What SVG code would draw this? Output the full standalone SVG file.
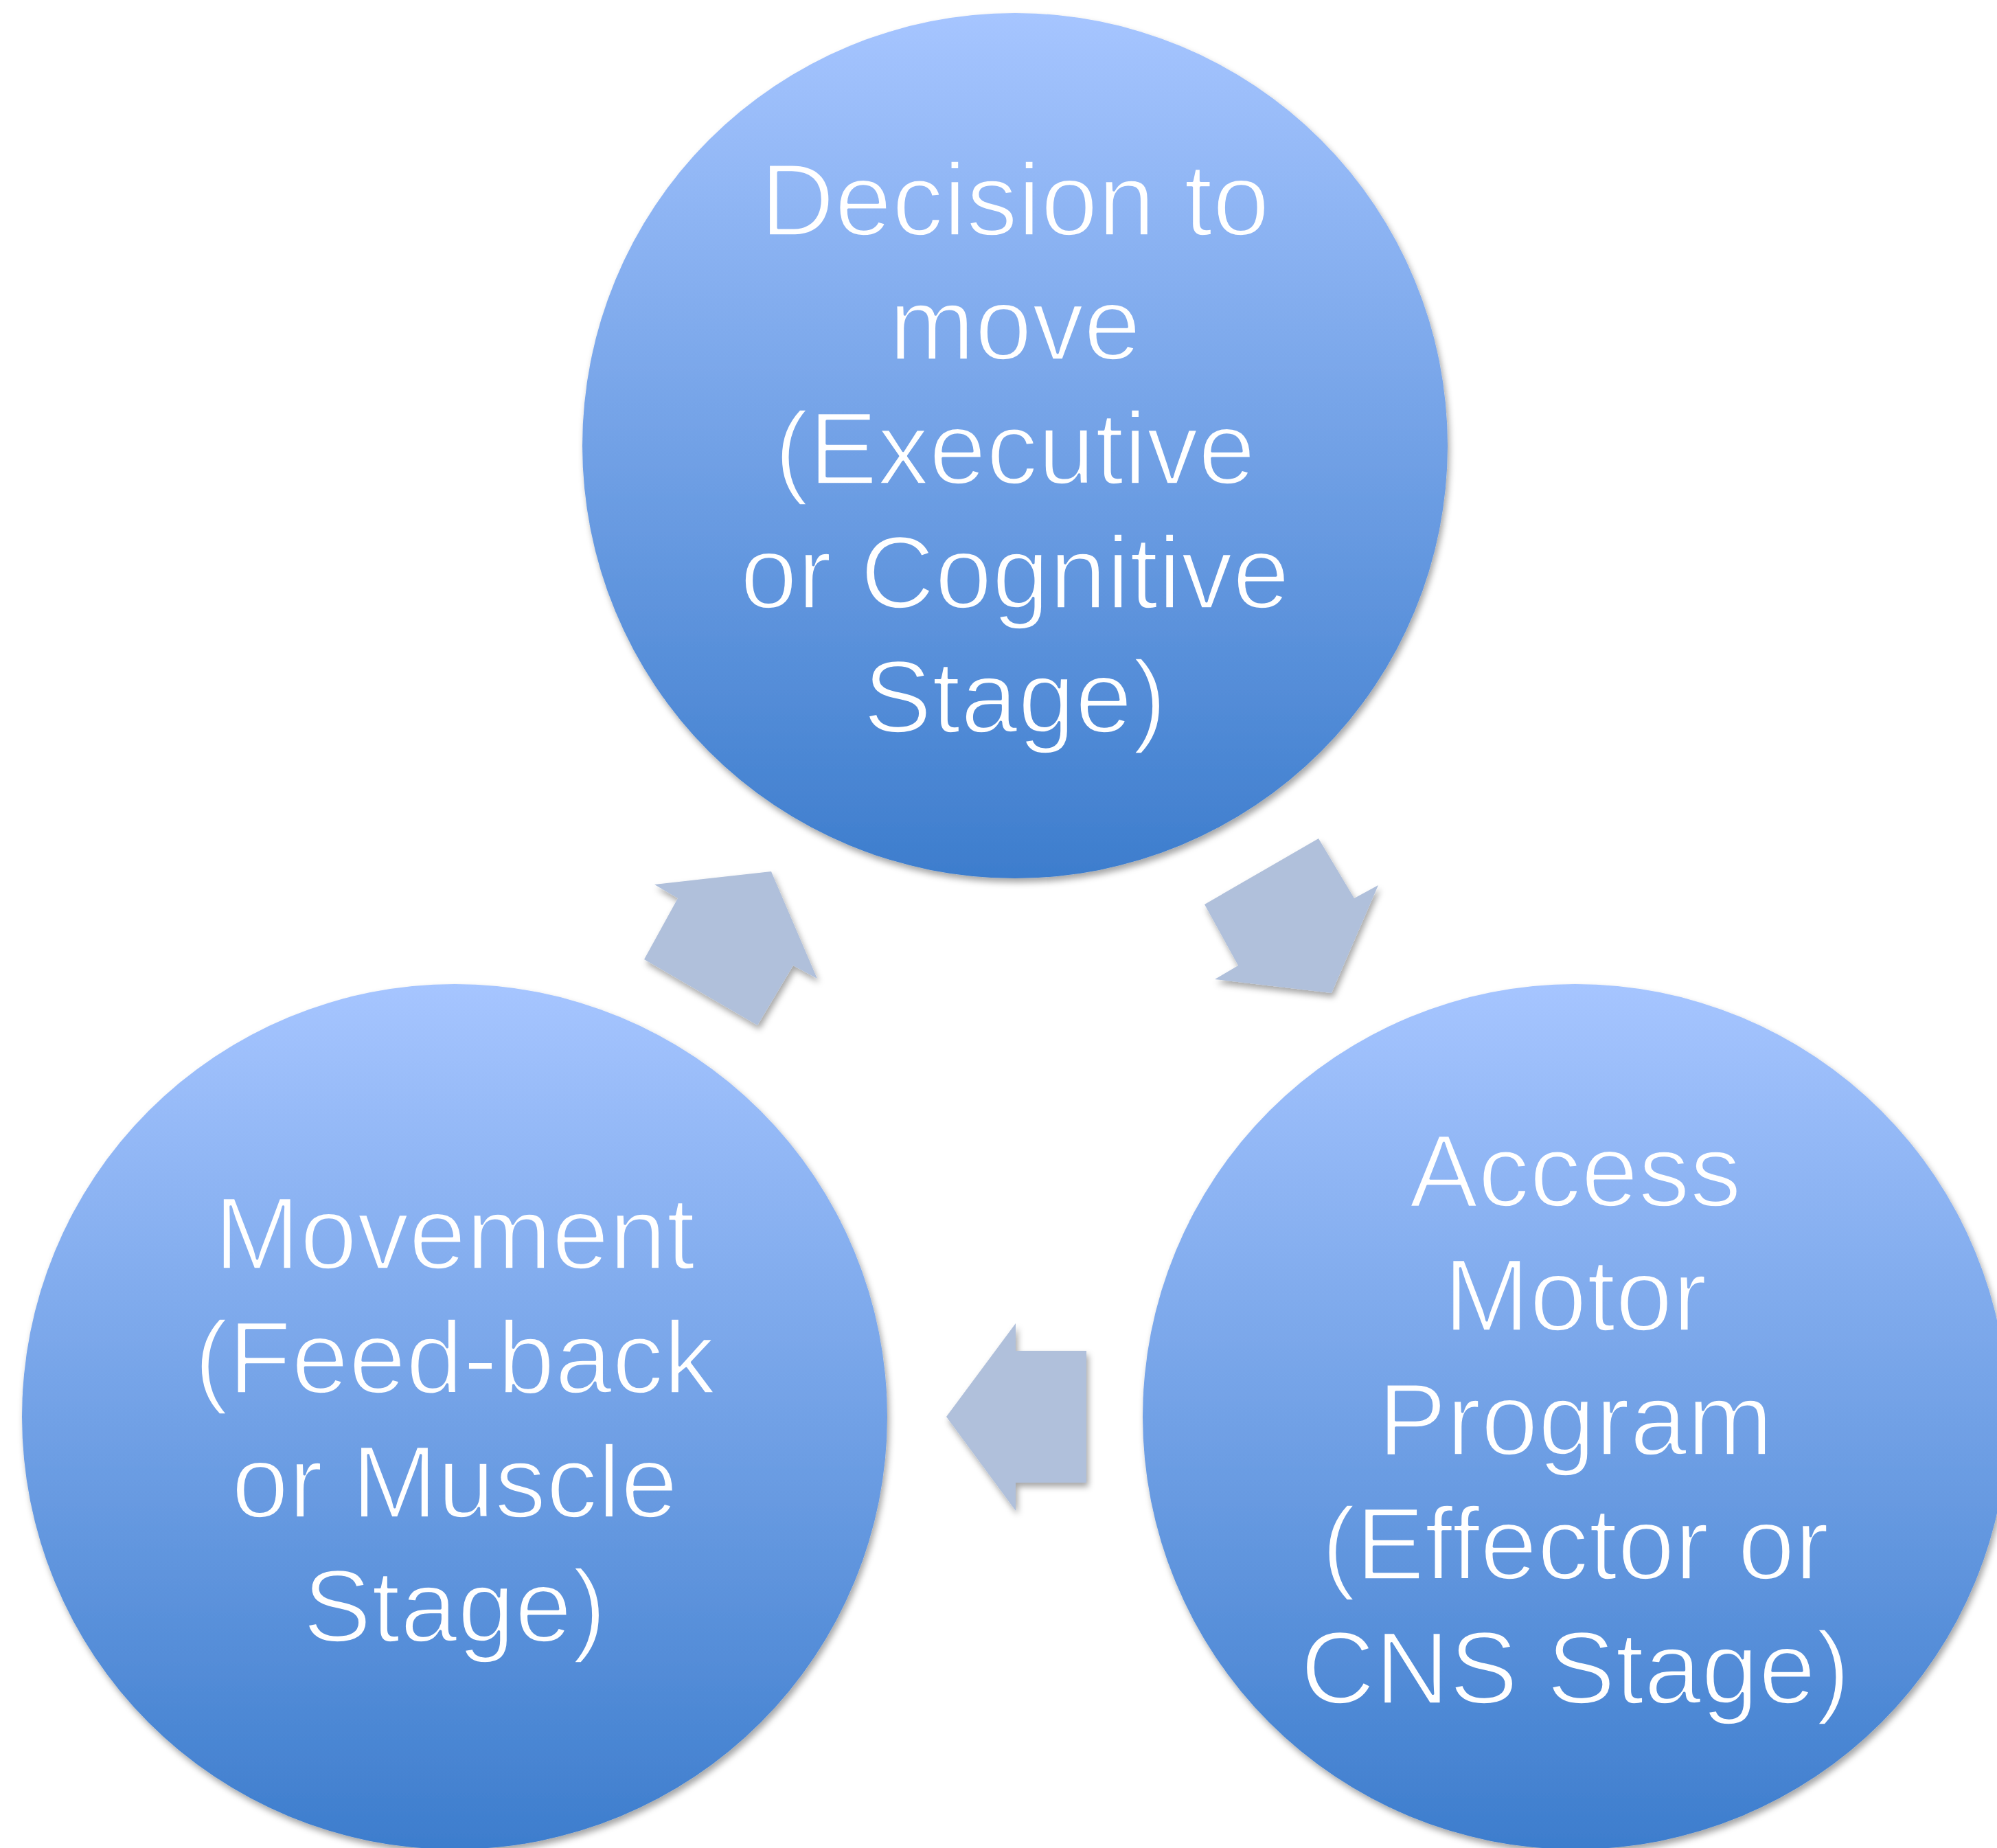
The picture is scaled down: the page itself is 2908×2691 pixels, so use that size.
<svg xmlns="http://www.w3.org/2000/svg" width="2908" height="2691" viewBox="0 0 2908 2691">
<defs>
<linearGradient id="gt" gradientUnits="userSpaceOnUse" x1="0" y1="19" x2="0" y2="1279">
<stop offset="0" stop-color="#A6C5FF"/>
<stop offset="1" stop-color="#3D7DCD"/>
</linearGradient>
<linearGradient id="gb" gradientUnits="userSpaceOnUse" x1="0" y1="1433" x2="0" y2="2693">
<stop offset="0" stop-color="#A6C5FF"/>
<stop offset="1" stop-color="#3D7DCD"/>
</linearGradient>
<filter id="sh" x="-10%" y="-10%" width="120%" height="120%">
<feDropShadow dx="3" dy="6" stdDeviation="5" flood-color="#000" flood-opacity="0.35"/>
</filter>
<style>
.c{filter:url(#sh)}
.a{fill:#B0C0DB;filter:url(#sh)}
.t{fill:#fff;font-family:"Liberation Sans",Arial,sans-serif;font-size:150px;text-anchor:middle;stroke-width:3.5px;stroke-linejoin:round}
.tt{stroke:url(#gt)}
.tb{stroke:url(#gb)}
</style>
</defs>
<rect width="2908" height="2691" fill="#fff"/>
<g id="connectors">
<polygon class="a" points="953,1288 1123,1269 1190,1425 1155,1406 1103,1493 938,1397 987,1308"/>
<polygon class="a" points="1754,1317 1920,1221 1972,1308 2007,1289 1939,1446 1769,1426 1803,1406"/>
<polygon class="a" points="1479,1927 1479,1967 1582,1967 1582,2159 1479,2159 1479,2200 1378,2063"/>
</g>
<g id="node-decision">
<circle class="c" fill="url(#gt)" cx="1478" cy="649" r="630"/>
<g class="t tt">
<text x="1478" y="343">Decision to</text>
<text x="1478" y="524">move</text>
<text x="1478" y="705">(Executive</text>
<text x="1478" y="886">or Cognitive</text>
<text x="1478" y="1067">Stage)</text>
</g>
</g>
<g id="node-movement">
<circle class="c" fill="url(#gb)" cx="662" cy="2063" r="630"/>
<g class="t tb">
<text x="662" y="1848">Movement</text>
<text x="662" y="2029">(Feed-back</text>
<text x="662" y="2210">or Muscle</text>
<text x="662" y="2391">Stage)</text>
</g>
</g>
<g id="node-access">
<circle class="c" fill="url(#gb)" cx="2294" cy="2063" r="630"/>
<g class="t tb">
<text x="2294" y="1757">Access</text>
<text x="2294" y="1938">Motor</text>
<text x="2294" y="2119">Program</text>
<text x="2294" y="2300">(Effector or</text>
<text x="2294" y="2481">CNS Stage)</text>
</g>
</g>
</svg>
